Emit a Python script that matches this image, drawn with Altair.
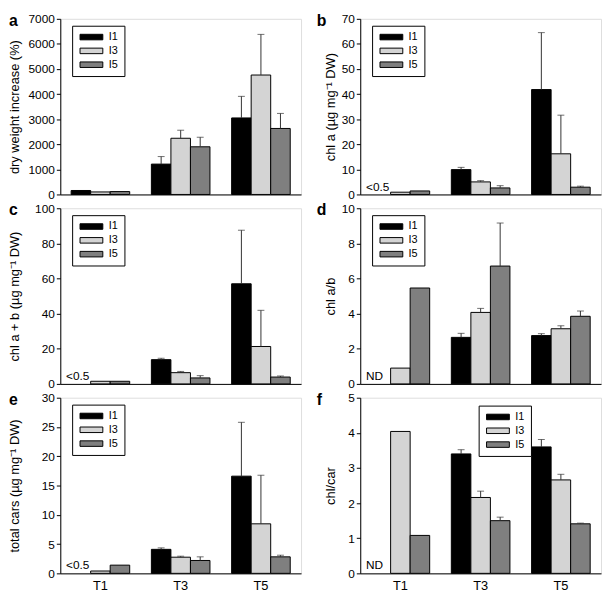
import altair as alt
import pandas as pd

FONT = "Liberation Sans"

groups = ["T1", "T3", "T5"]
series = ["I1", "I3", "I5"]
colors = ["#000000", "#d4d4d4", "#7f7f7f"]

# values ordered: T1 (I1, I3, I5), T3 (I1, I3, I5), T5 (I1, I3, I5)
dw_mean = [158, 100, 115, 1210, 2240, 1900, 3050, 4760, 2630]
dw_err = [0, 0, 0, 300, 320, 380, 860, 1620, 600]

chla_mean = [None, 0.9, 1.4, 9.9, 5.0, 2.6, 41.8, 16.2, 2.9]
chla_err = [0, 0, 0, 0.9, 0.5, 0.9, 22.7, 15.4, 0.4]

chlab_mean = [None, 1.5, 1.5, 13.8, 6.4, 3.4, 57.0, 21.3, 3.9]
chlab_err = [0, 0, 0, 0.8, 0.7, 1.3, 30.5, 20.6, 0.6]

ratio_ab_mean = [None, 0.9, 5.46, 2.65, 4.07, 6.71, 2.75, 3.14, 3.85]
ratio_ab_err = [0, 0, 0, 0.23, 0.23, 2.45, 0.11, 0.17, 0.30]

cars_mean = [None, 0.4, 1.4, 4.1, 2.76, 2.2, 16.6, 8.46, 2.82]
cars_err = [0, 0, 0, 0.25, 0.17, 0.62, 9.2, 8.3, 0.28]

chlcar_mean = [None, 4.04, 1.08, 3.40, 2.16, 1.50, 3.60, 2.66, 1.41]
chlcar_err = [0, 0, 0, 0.12, 0.18, 0.10, 0.21, 0.16, 0.02]

ticks_a = [0, 1000, 2000, 3000, 4000, 5000, 6000, 7000]
ticks_b = [0, 10, 20, 30, 40, 50, 60, 70]
ticks_c = [0, 20, 40, 60, 80, 100]
ticks_d = [0, 2, 4, 6, 8, 10]
ticks_e = [0, 5, 10, 15, 20, 25, 30]
ticks_f = [0, 1, 2, 3, 4, 5]

W, H = 244, 178


def panel(letter, title, means, errs, ticks, note, legend_xy, left, bottom):
    rows = []
    for gi, g in enumerate(groups):
        for si, s in enumerate(series):
            k = gi * 3 + si
            m = means[k]
            e = errs[k]
            rows.append({
                "time": g, "irr": s, "mean": m, "err": e,
                "top": (m + e) if m is not None else None,
                "note": note if (m is None) else "",
            })
    df = pd.DataFrame(rows)
    base = alt.Chart(df)

    x_axis = alt.Axis(
        title=None, labels=bottom, ticks=False, domainColor="black",
        labelFontSize=13, labelColor="black", labelPadding=6, labelFont=FONT,
        labelAngle=0,
    )
    x = alt.X("time:N", sort=groups,
              scale=alt.Scale(paddingInner=0.27, paddingOuter=0.135),
              axis=x_axis)
    xo = alt.XOffset("irr:N", sort=series,
                     scale=alt.Scale(paddingInner=0, paddingOuter=0))
    y_axis = alt.Axis(
        title=title, values=ticks, tickCount=len(ticks) + 5, format="d",
        grid=False, labelOverlap=False, labelFlush=False,
        domainColor="black", tickColor="black", tickSize=4,
        labelFontSize=12, labelColor="black", labelPadding=2, labelFont=FONT,
        titleFontSize=13, titleFontWeight="normal", titleColor="black",
        titleFont=FONT,
        titleX=-46 if left else -30, titleY=H / 2, titleAngle=270,
        titleBaseline="middle", titleAlign="center",
    )
    y = alt.Y("mean:Q", scale=alt.Scale(domain=[ticks[0], ticks[-1]], nice=False),
              axis=y_axis)

    legend = alt.Legend(
        title=None, orient="none", legendX=legend_xy[0], legendY=legend_xy[1],
        strokeColor="black", fillColor="white", padding=6,
        symbolType="M-1,-0.8H5.6V0.8H-1Z", symbolSize=49,
        symbolStrokeColor="black", symbolStrokeWidth=1, symbolOpacity=1,
        labelFontSize=11, labelFont=FONT, labelColor="black",
        labelOffset=20, rowPadding=2,
    )
    color = alt.Color("irr:N", sort=series,
                      scale=alt.Scale(domain=series, range=colors),
                      legend=legend)

    bars = base.mark_bar(stroke="black", strokeWidth=1, opacity=1).encode(
        x=x, xOffset=xo, y=y, color=color
    )
    rule = base.transform_filter("datum.err > 0").mark_rule(
        color="#333333", strokeWidth=1
    ).encode(x=x, xOffset=xo, y="mean:Q", y2="top:Q")
    cap = base.transform_filter("datum.err > 0").mark_tick(
        color="#333333", size=7, thickness=1
    ).encode(x=x, xOffset=xo, y="top:Q")
    txt = base.transform_filter("datum.note != ''").mark_text(
        align="left", baseline="alphabetic", dx=-15, dy=-4,
        fontSize=12, font=FONT, color="black"
    ).encode(x=x, xOffset=xo, y=alt.datum(0), text="note:N")
    lab = alt.Chart(pd.DataFrame({"t": [letter]})).mark_text(
        align="left", baseline="middle", fontSize=16, fontWeight="bold",
        font=FONT, color="black"
    ).encode(x=alt.value(-52 if left else -44), y=alt.value(2), text="t:N")

    return alt.layer(bars, rule, cap, txt, lab).properties(width=W, height=H)


pa = panel("a", "dry weight increase (%)", dw_mean, dw_err, ticks_a, "", (12, 7), True, False)
pb = panel("b", "chl a (µg mg⁻¹ DW)", chla_mean, chla_err, ticks_b, "<0.5", (12, 7), False, False)
pc = panel("c", "chl a + b (µg mg⁻¹ DW)", chlab_mean, chlab_err, ticks_c, "<0.5", (12, 7), True, False)
pd_ = panel("d", "chl a/b", ratio_ab_mean, ratio_ab_err, ticks_d, "ND", (12, 7), False, False)
pe = panel("e", "total cars (µg mg⁻¹ DW)", cars_mean, cars_err, ticks_e, "<0.5", (12, 7), True, True)
pf = panel("f", "chl/car", chlcar_mean, chlcar_err, ticks_f, "ND", (120, 8), False, True)

chart = alt.concat(
    pa, pb, pc, pd_, pe, pf, columns=2, spacing={"row": 0, "column": 14}
).resolve_scale(color="independent").resolve_legend(color="independent").configure_view(
    stroke="#888888", strokeWidth=1
).configure(padding=0, background="white")

chart.save("out.html", embed_options={"renderer": "svg", "actions": False})
